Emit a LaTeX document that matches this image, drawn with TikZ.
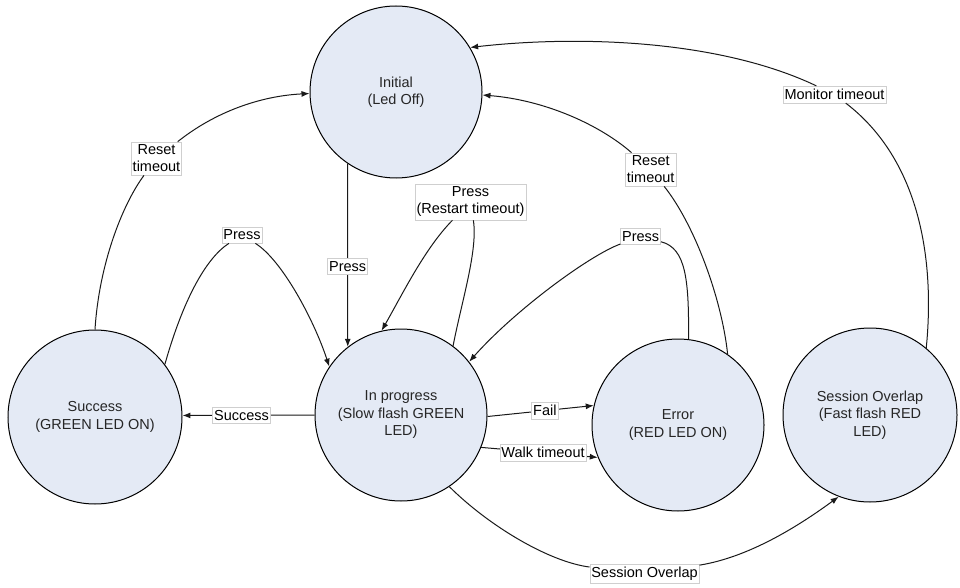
\documentclass[tikz,border=0pt]{standalone}
\usepackage{fontspec}
\setmainfont{Liberation Sans}
\usetikzlibrary{arrows.meta}
\definecolor{statefill}{HTML}{E4EAF5}
\definecolor{lblframe}{HTML}{CFCFCF}
\begin{document}
\begin{tikzpicture}[x=1pt,y=-1pt,
  state/.style={circle, draw=black, line width=1pt, fill=statefill,
    minimum size=172pt, inner sep=0pt, align=center, text=black!85,
    font=\fontsize{14.5}{17.5}\selectfont},
  lbl/.style={draw=lblframe, line width=0.6pt, fill=white, inner xsep=1.5pt,
    inner ysep=3pt, align=center, text=black,
    font=\fontsize{14.5}{17}\selectfont},
  seg/.style={line width=1pt, draw=black!90},
  conn/.style={seg, -{Latex[length=8pt,width=6pt]}}]
\useasboundingbox (0,0) rectangle (960,588);

% states
\node[state] (init) at (396,92) {Initial\\(Led Off)};
\node[state] (prog) at (401,415) {In progress\\(Slow flash GREEN\\LED)};
\node[state, minimum size=174pt] (succ) at (95,417) {Success\\(GREEN LED ON)};
\node[state] (err) at (678,425) {Error\\(RED LED ON)};
\node[state, minimum size=174pt] (sess) at (870,415) {Session Overlap\\(Fast flash RED\\LED)};

% labels that sit between two curve segments
\node[lbl] (rtl) at (156.5,158.5) {Reset\\timeout};
\node[lbl] (pl) at (242,235) {Press};
\node[lbl] (prt) at (470.5,202) {Press\\(Restart timeout)};
\node[lbl] (pr) at (640.7,236.7) {Press};
\node[lbl] (rtr) at (650.7,169.5) {Reset\\timeout};
\node[lbl] (mon) at (834.5,94.5) {Monitor timeout};
\node[lbl] (lsess) at (644.5,574) {Session Overlap};

% Success -> Initial (reset timeout)
\draw[seg] (succ.north) .. controls (99,265) and (122,205) .. (rtl);
\draw[conn] (rtl) .. controls (215,112) and (260,96) .. (init.181);

% Success -> In progress (press)
\draw[seg] (succ.37) .. controls (183,300) and (206,258) .. (pl);
\draw[conn] (pl) .. controls (282,260) and (314,320) .. (prog.146);

% Initial -> In progress (press)
\draw[conn] (init.236) -- (prog.128) node[lbl, pos=0.56] (pv) {Press};

% In progress -> In progress (restart timeout)
\draw[seg] (prog.53) .. controls (462,300) and (478,250) .. (prt);
\draw[conn] (prt) .. controls (425,248) and (402,295) .. (prog.103.5);

% Error -> In progress (press)
\draw[seg] (err.83) .. controls (689,280) and (686,248) .. (pr);
\draw[conn] (pr) .. controls (590,255) and (515,310) .. (prog.38.6);

% Error -> Initial (reset timeout)
\draw[seg] (err.55) .. controls (722,300) and (695,225) .. (rtr);
\draw[conn] (rtr) .. controls (600,125) and (545,100) .. (init.-2);

% Session Overlap -> Initial (monitor timeout)
\draw[seg] (sess.50.6) .. controls (935,260) and (920,160) .. (mon);
\draw[conn] (mon) .. controls (720,40) and (580,35) .. (init.31.7);

% In progress -> Session Overlap
\draw[seg] (prog.-56) .. controls (490,527) and (550,562) .. (lsess);
\draw[conn] (lsess) .. controls (750,557) and (800,525) .. (sess.249.5);

% straight transitions out of In progress
\draw[conn] (prog.180) -- (succ.1) node[lbl, pos=0.553] (lsucc) {Success};
\draw[conn] (prog.-1) -- (err.167.6) node[lbl, pos=0.54] (lfail) {Fail};
\draw[conn] (prog.-22) -- (err.202) node[lbl, pos=0.53] (lwalk) {Walk timeout};
\end{tikzpicture}
\end{document}
